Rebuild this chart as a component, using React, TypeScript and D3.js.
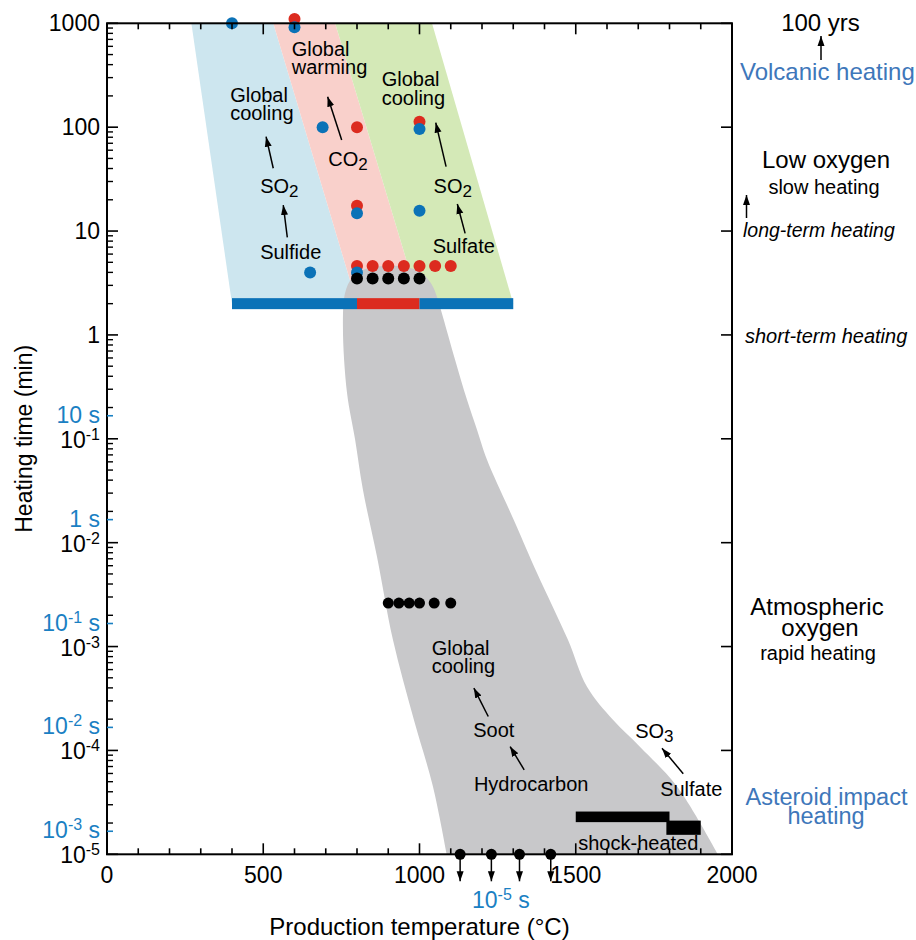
import React from 'react';
import * as d3 from 'd3';

const W = 916;
const H = 940;
const FONT = '"Liberation Sans", Arial, Helvetica, sans-serif';

// axes
const xMinorTicks = d3.range(0, 2001, 100);
const xLabels = [0, 500, 1000, 1500, 2000];
const yDecades = [1000, 100, 10, 1, 1e-1, 1e-2, 1e-3, 1e-4, 1e-5];
const secondExps = [1, 0, -1, -2, -3]; // blue tick marks in seconds

// shaded fields [temperature °C, heating time min]
const blueZone = [[270, 1000], [532, 1000], [800, 2], [400, 2]];
const pinkZone = [[532, 1000], [730, 1000], [1000, 2], [800, 2]];
const greenZone = [[730, 1000], [1040, 1000], [1300, 2], [1000, 2]];
const greyZone = [
  [1087, 1e-5], [1043, 4.5e-5], [982, 1.97e-4], [915, 1.16e-3],
  [864, 7.3e-3], [819, 0.0323], [794, 0.098], [768, 0.277], [755, 1.19],
  [762, 2.54], [784, 3.53], [826, 4.31], [890, 4.61], [954, 4.5], [1002, 4.05],
  [1040, 3.03], [1056, 2.32], [1075, 1.49], [1114, 0.575], [1152, 0.237],
  [1184, 0.122], [1216, 0.0627], [1306, 0.0155], [1376, 5.1e-3],
  [1475, 1.16e-3], [1536, 4.1e-4], [1619, 1.97e-4], [1706, 1.08e-4],
  [1824, 4.5e-5], [1955, 1e-5],
];

// heating bar at 2 min
const barTime = 2;
const barSegments = [
  { from: 400, to: 800, kind: 'blue' },
  { from: 800, to: 1000, kind: 'red' },
  { from: 1000, to: 1300, kind: 'blue' },
];

const redDots = [
  [600, 1100], [800, 100], [1000, 113], [800, 17.5],
  [800, 4.6], [850, 4.6], [900, 4.6], [950, 4.6], [1000, 4.6], [1050, 4.6], [1100, 4.6],
];
const blueDots = [
  [400, 1000], [600, 915], [690, 100], [1000, 96], [800, 14.8], [1000, 15.7],
  [650, 4.0], [800, 4.0],
];
const blackDots = [[800, 3.5], [850, 3.5], [900, 3.5], [950, 3.5], [1000, 3.5]];
const midDots = [[900, 2.62e-3], [934, 2.62e-3], [967, 2.62e-3], [1000, 2.62e-3], [1047, 2.62e-3], [1100, 2.62e-3]];
const bottomDots = [1130, 1230, 1320, 1420];

const shockBars = [
  { x0: 1500, x1: 1800, t0: 2.58e-5, t1: 2.04e-5 },
  { x0: 1790, x1: 1900, t0: 2.11e-5, t1: 1.54e-5 },
];

// annotations inside the plot: [temperature, time] of the first baseline (left aligned)
const labels = [
  { lines: ['Global', 'cooling'], at: [394, 176] },
  { lines: ['SO'], sub: '2', at: [490, 23.1] },
  { lines: ['Sulfide'], at: [490, 5.35] },
  { lines: ['Global', 'warming'], at: [591, 488] },
  { lines: ['CO'], sub: '2', at: [708, 42.3] },
  { lines: ['Global', 'cooling'], at: [879, 249] },
  { lines: ['SO'], sub: '2', at: [1045, 23.1] },
  { lines: ['Sulfate'], at: [1042, 6.2] },
  { lines: ['Global', 'cooling'], at: [1039, 8.3e-4] },
  { lines: ['Soot'], at: [1172, 1.36e-4] },
  { lines: ['Hydrocarbon'], at: [1174, 4.03e-5] },
  { lines: ['SO'], sub: '3', at: [1690, 1.31e-4] },
  { lines: ['Sulfate'], at: [1770, 3.66e-5] },
  { lines: ['shock-heated'], at: [1508, 1.1e-5] },
];

const arrows = [
  [532, 40.2, 509, 81],
  [577, 8.7, 564, 17.8],
  [751, 75.3, 706, 196.6],
  [1085, 41.7, 1052, 110.5],
  [1146, 9.5, 1121, 18.2],
  [1220, 2.12e-4, 1174, 3.98e-4],
  [1335, 6.5e-5, 1290, 1.09e-4],
  [1844, 5.96e-5, 1776, 1.05e-4],
];

const COLORS = {
  blueZone: '#cde6ef',
  pinkZone: '#f9d0cb',
  greenZone: '#d4e9b7',
  grey: '#c8c8ca',
  red: '#dc2b1f',
  blue: '#0b72b7',
  secBlue: '#1a80c3',
  headBlue: '#3e77ba',
};

const x = d3.scaleLinear().domain([0, 2000]).range([107, 732]);
const y = d3.scaleLog().domain([1e-5, 1000]).range([854.3, 23.3]);

const poly = d3.line<number[]>().x(d => x(d[0])).y(d => y(d[1]));
const smooth = d3.line<number[]>().x(d => x(d[0])).y(d => y(d[1])).curve(d3.curveCatmullRom);

const Power = ({ px, py, exp, suffix, fill, size = 23 }) => (
  <text x={px} y={py} textAnchor="end" fontSize={size} fill={fill}>
    10<tspan fontSize={16} dy={-8}>{exp}</tspan>
    {suffix ? <tspan dy={8}>{suffix}</tspan> : null}
  </text>
);

export default function App() {
  const plotLeft = x(0), plotRight = x(2000), plotTop = y(1000), plotBottom = y(1e-5);
  const minorY: number[] = [];
  for (let e = -5; e < 3; e++) for (let m = 2; m <= 9; m++) minorY.push(m * Math.pow(10, e));

  return (
    <div style={{ position: 'absolute', left: 0, top: 0 }}>
      <svg width={W} height={H} fontFamily={FONT} style={{ display: 'block', background: '#fff' }}>
        <defs>
          <marker id="ah" viewBox="0 0 10 10" refX="10" refY="5" markerWidth="10" markerHeight="10"
            markerUnits="userSpaceOnUse" orient="auto">
            <path d="M0,1.5 L10,5 L0,8.5 z" fill="#000" />
          </marker>
        </defs>

        {/* fields */}
        <path d={poly(blueZone) + 'Z'} fill={COLORS.blueZone} />
        <path d={poly(pinkZone) + 'Z'} fill={COLORS.pinkZone} />
        <path d={poly(greenZone) + 'Z'} fill={COLORS.greenZone} />
        <path d={smooth(greyZone) + 'Z'} fill={COLORS.grey} />

        {/* 2-minute bar */}
        {barSegments.map((s, i) => (
          <rect key={i} x={x(s.from)} y={y(barTime) - 5.5} width={x(s.to) - x(s.from)} height={11}
            fill={s.kind === 'red' ? COLORS.red : COLORS.blue} />
        ))}

        {/* dots */}
        {redDots.map((d, i) => <circle key={'r' + i} cx={x(d[0])} cy={y(d[1])} r={6} fill={COLORS.red} />)}
        {blueDots.map((d, i) => <circle key={'b' + i} cx={x(d[0])} cy={y(d[1])} r={6} fill={COLORS.blue} />)}
        {blackDots.map((d, i) => <circle key={'k' + i} cx={x(d[0])} cy={y(d[1])} r={6} fill="#000" />)}
        {midDots.map((d, i) => <circle key={'m' + i} cx={x(d[0])} cy={y(d[1])} r={5.5} fill="#000" />)}

        {/* shock-heated bars */}
        {shockBars.map((b, i) => (
          <rect key={i} x={x(b.x0)} y={y(b.t0)} width={x(b.x1) - x(b.x0)} height={y(b.t1) - y(b.t0)} fill="#000" />
        ))}

        {/* frame */}
        <rect x={plotLeft} y={plotTop} width={plotRight - plotLeft} height={plotBottom - plotTop}
          fill="none" stroke="#000" strokeWidth={2} />

        {/* x ticks top and bottom */}
        {xMinorTicks.map(v => {
          const len = v % 500 === 0 ? 11 : 6;
          return (
            <g key={v} stroke="#000" strokeWidth={1.6}>
              <line x1={x(v)} x2={x(v)} y1={plotTop} y2={plotTop + len} />
              <line x1={x(v)} x2={x(v)} y1={plotBottom} y2={plotBottom - len} />
            </g>
          );
        })}
        {xLabels.map(v => (
          <text key={v} x={x(v)} y={883} textAnchor="middle" fontSize={23}>{v}</text>
        ))}

        {/* y ticks */}
        {yDecades.map(v => (
          <g key={v} stroke="#000" strokeWidth={1.6}>
            <line x1={plotLeft} x2={plotLeft + 11} y1={y(v)} y2={y(v)} />
            <line x1={plotRight} x2={plotRight - 11} y1={y(v)} y2={y(v)} />
          </g>
        ))}
        {minorY.map(v => (
          <line key={v} x1={plotLeft} x2={plotLeft + 6} y1={y(v)} y2={y(v)} stroke="#000" strokeWidth={1.4} />
        ))}
        {yDecades.map(v => v >= 1
          ? <text key={v} x={100} y={y(v) + 8} textAnchor="end" fontSize={23}>{v}</text>
          : <Power key={v} px={100} py={y(v) + 9} exp={'-' + Math.round(-Math.log10(v))} fill="#000" />
        )}

        {/* seconds on the left axis */}
        {secondExps.map(e => {
          const yy = y(Math.pow(10, e) / 60);
          return (
            <g key={e}>
              <line x1={plotLeft} x2={plotLeft + 6} y1={yy} y2={yy} stroke={COLORS.secBlue} strokeWidth={1.6} />
              {e === 1 || e === 0
                ? <text x={100} y={yy + 7} textAnchor="end" fontSize={23} fill={COLORS.secBlue}>{e === 1 ? '10 s' : '1 s'}</text>
                : <Power px={100} py={yy + 7} exp={String(e)} suffix={' s'} fill={COLORS.secBlue} />}
            </g>
          );
        })}

        {/* bottom dots with down arrows */}
        {bottomDots.map(v => (
          <g key={v}>
            <line x1={x(v)} x2={x(v)} y1={plotBottom} y2={plotBottom + 27} stroke="#000" strokeWidth={1.5} markerEnd="url(#ah)" />
            <circle cx={x(v)} cy={plotBottom} r={5.5} fill="#000" />
          </g>
        ))}
        <text x={472} y={908} fontSize={23} fill={COLORS.secBlue}>
          10<tspan fontSize={16} dy={-8}>-5</tspan><tspan dy={8}> s</tspan>
        </text>

        {/* arrows */}
        {arrows.map((a, i) => (
          <line key={i} x1={x(a[0])} y1={y(a[1])} x2={x(a[2])} y2={y(a[3])} stroke="#000" strokeWidth={1.5} markerEnd="url(#ah)" />
        ))}

        {/* labels */}
        {labels.map((l, i) => (
          <text key={i} x={x(l.at[0])} y={y(l.at[1])} fontSize={20}>
            {l.lines.map((s, j) => (
              <tspan key={j} x={x(l.at[0])} dy={j === 0 ? 0 : 18.5}>{s}</tspan>
            ))}
            {l.sub ? <tspan fontSize={17} dy={4}>{l.sub}</tspan> : null}
          </text>
        ))}

        {/* axis titles */}
        <text x={(plotLeft + plotRight) / 2} y={935} textAnchor="middle" fontSize={24}>Production temperature (°C)</text>
        <text transform={`translate(32,${(plotTop + plotBottom) / 2}) rotate(-90)`} textAnchor="middle" fontSize={23}>Heating time (min)</text>

        {/* right-side notes */}
        <text x={820.5} y={31} textAnchor="middle" fontSize={24}>100 yrs</text>
        <line x1={821} x2={821} y1={60} y2={36} stroke="#000" strokeWidth={1.5} markerEnd="url(#ah)" />
        <text x={740} y={80} fontSize={24} fill={COLORS.headBlue}>Volcanic heating</text>

        <text x={826} y={168} textAnchor="middle" fontSize={24}>Low oxygen</text>
        <text x={824} y={194} textAnchor="middle" fontSize={20}>slow heating</text>
        <line x1={746.5} x2={746.5} y1={218} y2={195} stroke="#000" strokeWidth={1.5} markerEnd="url(#ah)" />
        <text x={743} y={237} fontSize={19.5} fontStyle="italic">long-term heating</text>
        <text x={745} y={343} fontSize={20} fontStyle="italic">short-term heating</text>

        <text x={817} y={615} textAnchor="middle" fontSize={24}>Atmospheric</text>
        <text x={820} y={636} textAnchor="middle" fontSize={24}>oxygen</text>
        <text x={818} y={660} textAnchor="middle" fontSize={20}>rapid heating</text>

        <text x={826.5} y={805} textAnchor="middle" fontSize={23.5} fill={COLORS.headBlue}>Asteroid impact</text>
        <text x={826} y={824} textAnchor="middle" fontSize={23.5} fill={COLORS.headBlue}>heating</text>
      </svg>
    </div>
  );
}
